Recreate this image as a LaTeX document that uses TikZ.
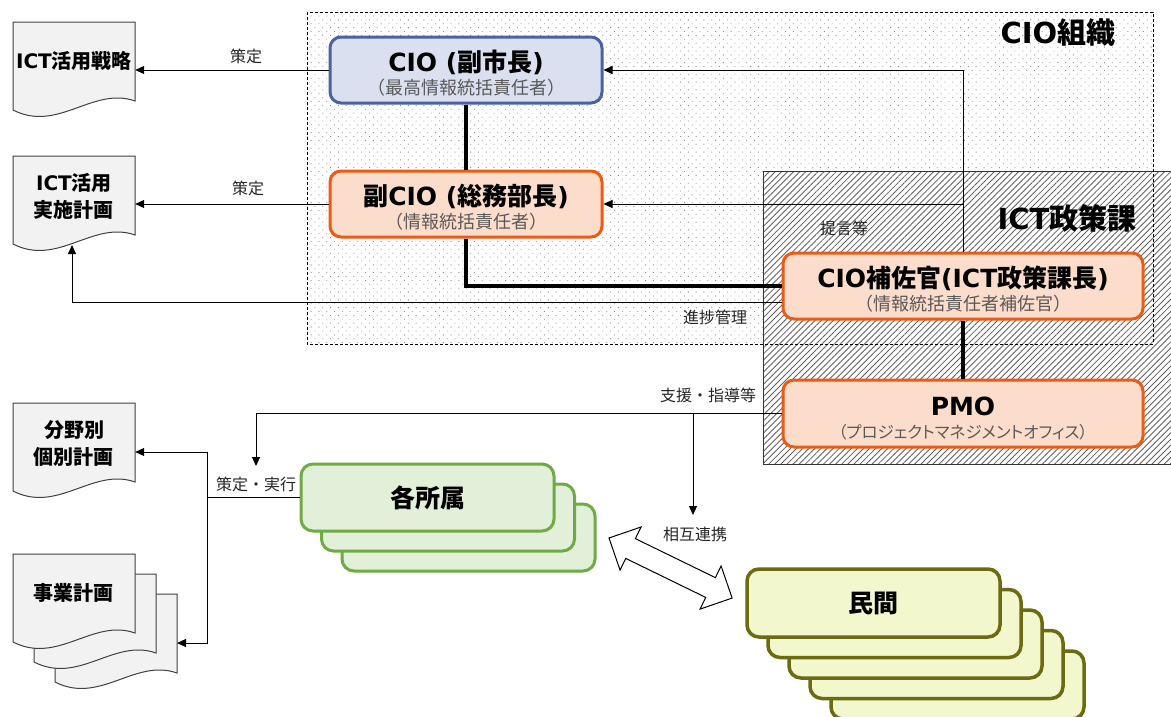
\documentclass[tikz,border=0pt]{standalone}
\usepackage{fontspec}
\setmainfont{Noto Sans CJK JP}
\newfontfamily\latf{DejaVu Sans}
\newfontfamily\kanaf{Noto Sans CJK JP}[RawFeature=+palt]
\usetikzlibrary{arrows.meta,patterns.meta}
\newcommand\lat[1]{{\latf #1}}
\definecolor{cioFill}{HTML}{DAE0F0}
\definecolor{cioLine}{HTML}{4A62A2}
\definecolor{orFill}{HTML}{FCDDCB}
\definecolor{orLine}{HTML}{EE5A12}
\definecolor{grFill}{HTML}{E2EFD9}
\definecolor{grLine}{HTML}{6FAA44}
\definecolor{olFill}{HTML}{F3F7CD}
\definecolor{olLine}{HTML}{6B6B12}
\definecolor{docFill}{HTML}{F2F2F2}
\definecolor{subGray}{HTML}{595959}
\definecolor{lblGray}{HTML}{262626}
\newcommand\docshape[2]{\draw[docst, shift={(#1,#2)}] (0,0) -- (122,0) -- (122,79) .. controls (80,64) and (45,111) .. (0,88) -- cycle;}
\begin{document}
\begin{tikzpicture}[x=1pt,y=-1pt,
  docst/.style={fill=docFill, draw=black!75, line width=1pt},
  doctext/.style={minimum width=122pt, minimum height=78pt, inner sep=0pt, align=center,
    font=\fontsize{20}{27}\selectfont\bfseries},
  bigbox/.style={rounded corners=11pt, line width=3pt, inner sep=0pt, align=center,
    font=\fontsize{18}{23}\selectfont},
  ciobox/.style={bigbox, draw=cioLine, fill=cioFill, minimum width=272pt, minimum height=66pt},
  orbox/.style={bigbox, draw=orLine, fill=orFill},
  kbox/.style={rounded corners=12pt, line width=3pt, draw=grLine, fill=grFill,
    minimum width=253pt, minimum height=67pt, font=\fontsize{25}{28}\selectfont\bfseries},
  mbox/.style={rounded corners=12pt, line width=3.5pt, draw=olLine, fill=olFill,
    minimum width=253pt, minimum height=68pt, font=\fontsize{25}{28}\selectfont\bfseries},
  lbl/.style={inner sep=0pt, text=lblGray, font=\fontsize{16}{18}\selectfont},
  ttl/.style={inner sep=0pt, font=\fontsize{29}{30}\selectfont\bfseries},
  arr/.style={line width=1pt, -{Triangle[length=9pt,width=8pt]}},
  thin/.style={line width=1pt},
  heavy/.style={line width=4.5pt}]
\useasboundingbox (0,0) rectangle (1171,716);
\clip (0,0) rectangle (1171,716);
\fill[white] (0,0) rectangle (1171,716);
% CIO organisation area (dots)
\fill[pattern={Dots[distance=5.5pt,radius=0.6pt,angle=45]}, pattern color=black!45] (307,12) rectangle (1153,344);
% ICT policy section area (hatch)
\fill[white] (763,171) rectangle (1175,464);
\draw[pattern={Lines[angle=45,distance=4.3pt,line width=0.85pt]}, pattern color=black!62, draw=black!80, line width=1pt] (763,171) rectangle (1175,464);
\draw[line width=1pt, dash pattern=on 3pt off 2pt] (307,12) rectangle (1153,344);
\node[ttl] (torg) at (1058,33) {\lat{CIO}組織};
\node[ttl] (tict) at (1067,218) {\lat{ICT}政策課};
% documents
\docshape{13}{22}
\node[doctext] (doc1) at (74,61) {\lat{ICT}活用戦略};
\docshape{13}{156}
\node[doctext] (doc2) at (74,196) {\lat{ICT}活用\\実施計画};
\docshape{13}{403}
\node[doctext] (doc3) at (74,443) {分野別\\個別計画};
\docshape{55}{594}
\docshape{34}{574}
\docshape{13}{554}
\node[doctext] (doc4) at (74,593) {事業計画};
\coordinate (d2in) at (72,245);
\coordinate (d3in) at ([yshift=-9pt]doc3.east);
\coordinate (d4in) at (177,643);
% main boxes
\node[ciobox] (cio) at (466,70) {\rule{0pt}{28pt}{\fontsize{25}{23}\selectfont\bfseries\lat{CIO (}副市長\lat{)}}\\{\color{subGray}（最高情報統括責任者）}};
\node[orbox, minimum width=272pt, minimum height=66pt] (vcio) at (466,204) {\rule{0pt}{28pt}{\fontsize{25}{23}\selectfont\bfseries 副\lat{CIO (}総務部長\lat{)}}\\{\color{subGray}（情報統括責任者）}};
\node[orbox, minimum width=360pt, minimum height=66pt] (hosa) at (963,286) {\rule{0pt}{28pt}{\fontsize{25}{23}\selectfont\bfseries\lat{CIO}補佐官\lat{(ICT}政策課長\lat{)}}\\{\color{subGray}（情報統括責任者補佐官）}};
\node[orbox, minimum width=360pt, minimum height=67pt] (pmo) at (963,413.5) {\rule{0pt}{28pt}{\fontsize{25}{23}\selectfont\bfseries\lat{PMO}}\\{\color{subGray}\kanaf\fontsize{16.5}{23}\selectfont（プロジェクトマネジメントオフィス）}};
% stacked boxes
\node[kbox] (kaku3) at (468.5,537.5) {};
\node[kbox] (kaku2) at (448,517.5) {};
\node[kbox] (kaku) at (427.5,497.5) {各所属};
\node[mbox] (min5) at (957.5,685) {};
\node[mbox] (min4) at (936.5,664.5) {};
\node[mbox] (min3) at (915.5,644) {};
\node[mbox] (min2) at (894.5,623.5) {};
\node[mbox] (min) at (873.5,603) {民間};
% heavy lines
\draw[heavy] (cio.south) -- (vcio.north);
\draw[heavy] (vcio.south) |- (hosa.west);
\draw[heavy] (hosa.south) -- (pmo.north);
% thin connectors
\draw[arr] (cio.west) -- (cio.west -| doc1.east);
\draw[arr] (vcio.west) -- (vcio.west -| doc2.east);
\draw[arr] (hosa.north) |- (cio.east);
\draw[arr] (hosa.north |- vcio.east) -- (vcio.east);
\draw[arr] ([yshift=-16pt]hosa.west) -| (d2in);
\coordinate (pmotgt) at (256,466);
\coordinate (renkei) at (693,515);
\draw[arr] (pmo.west) -| (pmotgt);
\draw[arr] (pmo.west -| renkei) -- (renkei);
\coordinate (sj) at (207,497.5);
\draw[thin] (kaku.west) -- (sj);
\draw[arr] (sj) |- (d3in);
\draw[arr] (sj) |- (d4in);
% mutual cooperation double arrow
\draw[fill=white, line width=1pt, line join=miter, shift={(609,538)}, rotate=-26]
  (0,0) -- (24,24) -- (24,11) -- (113,11) -- (113,24) -- (137,0) -- (113,-24) -- (113,-11) -- (24,-11) -- (24,-24) -- cycle;
% labels
\node[lbl] (l1) at (246,56) {策定};
\node[lbl] (l2) at (248,188) {策定};
\node[lbl] (l3) at (844,228) {提言等};
\node[lbl] (l4) at (715,317) {進捗管理};
\node[lbl] (l5) at (708,395) {支援・指導等};
\node[lbl] (l6) at (256,484) {策定・実行};
\node[lbl] (l7) at (695,534) {相互連携};
\end{tikzpicture}
\end{document}
